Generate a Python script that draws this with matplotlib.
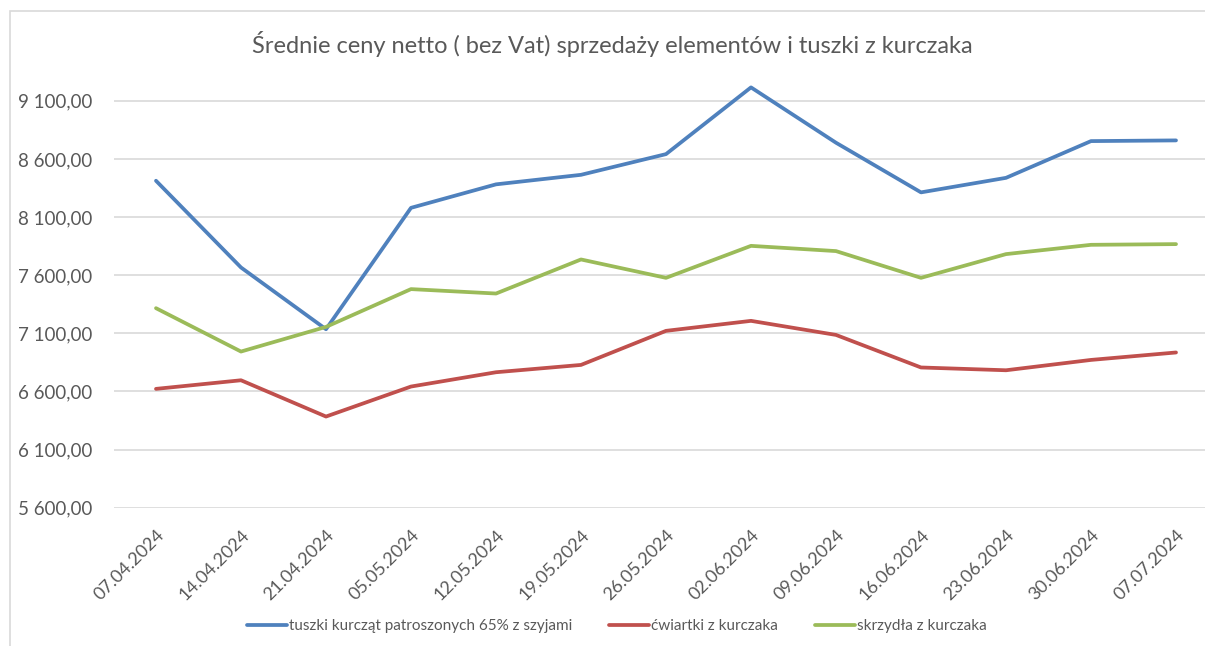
import matplotlib

matplotlib.use("Agg")
import matplotlib.pyplot as plt
import matplotlib.ticker as mticker
from matplotlib.patches import Rectangle

# ---------------------------------------------------------------------------
# Data
# ---------------------------------------------------------------------------
dates = ["07.04.2024", "14.04.2024", "21.04.2024", "05.05.2024", "12.05.2024",
         "19.05.2024", "26.05.2024", "02.06.2024", "09.06.2024", "16.06.2024",
         "23.06.2024", "30.06.2024", "07.07.2024"]

tuszki = [8412, 7666, 7135, 8179, 8381, 8463, 8641, 9215, 8739, 8312, 8437, 8753, 8759]
cwiartki = [6622, 6696, 6384, 6642, 6765, 6828, 7121, 7207, 7086, 6806, 6782, 6871, 6935]
skrzydla = [7316, 6943, 7155, 7480, 7442, 7735, 7577, 7852, 7807, 7577, 7781, 7861, 7867]

labels = ["tuszki kurcząt patroszonych 65% z szyjami",
          "ćwiartki z kurczaka",
          "skrzydła z kurczaka"]
y_ticks = [5600, 6100, 6600, 7100, 7600, 8100, 8600, 9100]

_C = {
    "blue": "#4f81bd",
    "red": "#c0504d",
    "green": "#9bbb59",
    "grid": "#d9d9d9",
    "text": "#595959",
}

plt.rcParams["font.family"] = ["Lato", "DejaVu Sans"]

fig = plt.figure(figsize=(12.05, 6.46), dpi=100, facecolor="white")

# chart border (cropped on the right and bottom in the reference)
fig.patches.append(Rectangle((10 / 1205, -0.1), 1.2, 1.1 - 11 / 646,
                             transform=fig.transFigure, fill=False,
                             edgecolor=_C["grid"], linewidth=1.2))

ax = fig.add_axes([113.5 / 1205, (646 - 507.7) / 646,
                   1105 / 1205, (507.7 - 77.5) / 646])

x = list(range(len(dates)))
ax.plot(x, tuszki, color=_C["blue"], linewidth=2.7, label=labels[0],
        solid_capstyle="round", zorder=3)
ax.plot(x, cwiartki, color=_C["red"], linewidth=2.7, label=labels[1],
        solid_capstyle="round", zorder=3)
ax.plot(x, skrzydla, color=_C["green"], linewidth=2.7, label=labels[2],
        solid_capstyle="round", zorder=3)

ax.set_xlim(-0.5, len(dates) - 0.5)
ax.set_ylim(5600, 9300)
ax.set_yticks(y_ticks)
ax.yaxis.set_major_formatter(mticker.FuncFormatter(
    lambda v, _: f"{v:,.2f}".replace(",", " ").replace(".", ",")))
ax.set_xticks(x)
ax.set_xticklabels(dates, rotation=45, ha="right", va="top",
                   rotation_mode="anchor")

ax.grid(True, axis="y", color=_C["grid"], linewidth=1.2)
ax.set_axisbelow(True)
for side in ("top", "right", "left", "bottom"):
    ax.spines[side].set_visible(False)
ax.tick_params(axis="both", length=0, colors=_C["text"], labelsize=13)
ax.tick_params(axis="y", pad=15, labelsize=13.5)
ax.tick_params(axis="x", pad=14)

fig.text(0.508, 1 - 44 / 646, "Średnie ceny netto ( bez Vat) sprzedaży elementów i tuszki z kurczaka",
         ha="center", va="center", fontsize=17, color=_C["text"])

leg = ax.legend(loc="center", bbox_to_anchor=(617 / 1205, 1 - 626 / 646),
                bbox_transform=fig.transFigure, ncol=3, frameon=False,
                fontsize=11, handlelength=2.6, handletextpad=0.15,
                columnspacing=2.4, labelcolor=_C["text"])

fig.savefig("out.png", dpi=100, facecolor="white")
plt.close(fig)
